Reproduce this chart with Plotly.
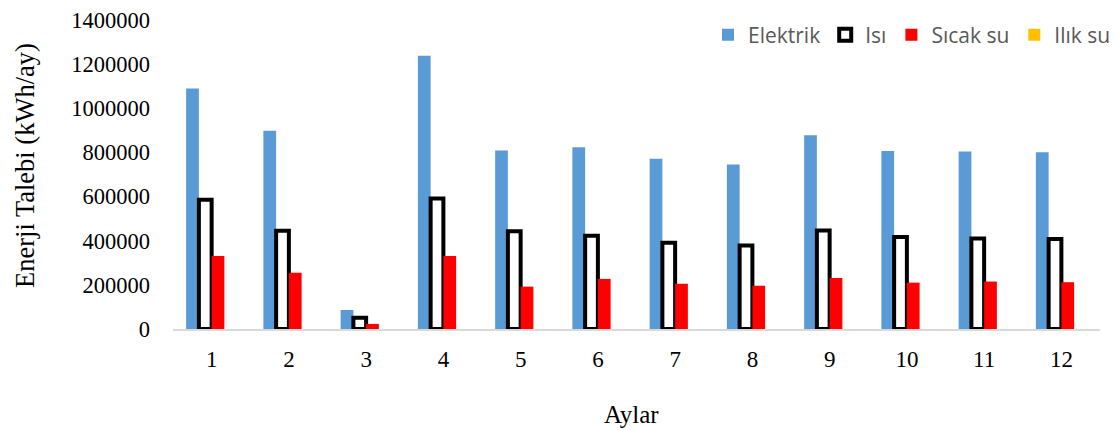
import plotly.graph_objects as go

months = ["1", "2", "3", "4", "5", "6", "7", "8", "9", "10", "11", "12"]
elektrik = [1090000, 898000, 86000, 1238000, 809000, 824000, 771000, 745000, 878000, 806000, 804000, 801000]
isi = [586000, 445000, 51000, 591000, 443000, 422000, 391000, 378000, 446000, 417000, 410000, 408000]
sicak_su = [331000, 255000, 23000, 331000, 192000, 227000, 205000, 196000, 231000, 210000, 215000, 212000]
ilik_su = [0, 0, 0, 0, 0, 0, 0, 0, 0, 0, 0, 0]
y_ticks = [0, 200000, 400000, 600000, 800000, 1000000, 1200000, 1400000]

fig = go.Figure()
fig.add_trace(go.Bar(name="Elektrik", x=months, y=elektrik,
                     marker=dict(color="#5B9BD5", line=dict(width=0))))
fig.add_trace(go.Bar(name="Isı", x=months, y=isi,
                     marker=dict(color="#FFFFFF", line=dict(color="#000000", width=4))))
fig.add_trace(go.Bar(name="Sıcak su", x=months, y=sicak_su,
                     marker=dict(color="#FF0000", line=dict(width=0))))
fig.add_trace(go.Bar(name="Ilık su", x=months, y=ilik_su,
                     marker=dict(color="#FFC000", line=dict(width=0))))

W, H = 1118, 430
ml, mr, mt, mb = 173, 18, 20, 101
pw = W - ml - mr
ph = H - mt - mb

fig.update_layout(
    width=W, height=H,
    margin=dict(l=ml, r=mr, t=mt, b=mb, pad=0, autoexpand=False),
    paper_bgcolor="white", plot_bgcolor="white",
    barmode="group", bargap=0.34, bargroupgap=0,
    showlegend=True,
    legend=dict(orientation="h", x=(1116 - ml) / pw, xanchor="right",
                y=1 - 15 / ph, yanchor="middle",
                font=dict(family="Open Sans", size=21, color="#595959"),
                bgcolor="rgba(0,0,0,0)", itemwidth=30),
    xaxis=dict(type="category", showgrid=False, showline=True, linecolor="#D9D9D9",
               linewidth=1.5, ticks="", ticklabelstandoff=9, automargin=False,
               tickfont=dict(family="Liberation Serif", size=23, color="#000000")),
    yaxis=dict(range=[0, 1400000], tickvals=y_ticks, showgrid=False, showline=False,
               zeroline=False, ticks="", ticklabelstandoff=22, automargin=False,
               tickformat="d",
               tickfont=dict(family="Liberation Serif", size=22.5, color="#000000")),
    annotations=[
        dict(text="Aylar", xref="paper", yref="paper", x=(631 - ml) / pw,
             y=-(414 - (mt + ph)) / ph, xanchor="center", yanchor="middle",
             showarrow=False, font=dict(family="Liberation Serif", size=25, color="#000000")),
        dict(text="Enerji Talebi (kWh/ay)", xref="paper", yref="paper",
             x=-(ml - 25) / pw, y=(mt + ph - 166) / ph, xanchor="center", yanchor="middle",
             textangle=-90, showarrow=False,
             font=dict(family="Liberation Serif", size=26.5, color="#000000")),
    ],
)

fig.write_html("out.html")
